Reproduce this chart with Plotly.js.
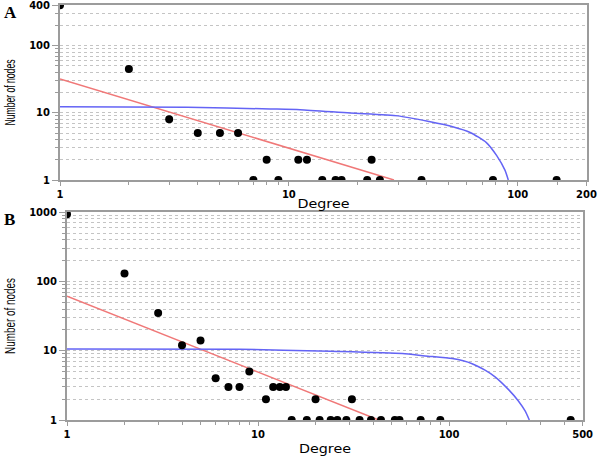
<!DOCTYPE html>
<html>
<head>
<meta charset="utf-8">
<script src="https://cdn.plot.ly/plotly-3.0.1.min.js"></script>
<style>html,body{margin:0;padding:0;background:#fff;}#chart{width:600px;height:457px;}</style>
</head>
<body>
<div id="chart"></div>
<script>
// Panel A data
const degreeA = [1,2,3,4,5,6,7,8,9,11,12,14,16,17,22,23,25,38,78,148];
const nodesA  = [400,45,8,5,5,5,1,2,1,2,2,1,1,1,1,2,1,1,1,1];
const powerFitXA = [1, 28.8];
const powerFitYA = [32, 1];
const cutoffFitXA = [1, 3.6, 8.3, 11.2, 18.5, 30, 41, 52, 62, 73, 81, 88, 91];
const cutoffFitYA = [12.3, 12.1, 11.4, 11.1, 9.9, 9.0, 7.4, 6.2, 5.1, 3.6, 2.3, 1.4, 1.0];

// Panel B data
const degreeB = [1,2,3,4,5,6,7,8,9,11,12,13,14,15,18,20,21,24,26,29,31,34,39,44,52,55,71,90,433];
const nodesB  = [930,130,35,12,14,4,3,3,5,2,3,3,3,1,1,2,1,1,1,1,2,1,1,1,1,1,1,1,1];
const powerFitXB = [1, 42.8];
const powerFitYB = [61, 1];
const cutoffFitXB = [1, 8, 24, 57, 75, 104, 132, 155, 174, 206, 230, 250, 263];
const cutoffFitYB = [10.6, 10.5, 9.8, 9.1, 8.4, 7.7, 6.5, 5.2, 4.2, 2.7, 1.9, 1.35, 1.0];

// Tick labels
const xTicksA = [1, 10, 100, 200];
const xTicksB = [1, 10, 100, 500];
const yTicksA = [1, 10, 100, 400];
const yTicksB = [1, 10, 100, 1000];
const xMinorA = [2,3,4,5,6,7,8,9,20,30,40,50,60,70,80,90,150];
const xMinorB = [2,3,4,5,6,7,8,9,20,30,40,50,60,70,80,90,200,300,400];
const yMinorA = [2,3,4,5,6,7,8,9,20,30,40,50,60,70,80,90,200,300];
const yMinorB = [2,3,4,5,6,7,8,9,20,30,40,50,60,70,80,90,200,300,400,500,600,700,800,900];

const W = 600, H = 457;
const axisGray = '#9c9c9c';
const tickFont = {family: 'DejaVu Sans, Arial, sans-serif', size: 10, color: '#000', weight: 'bold'};
const xTitleFont = {family: 'DejaVu Sans, Arial, sans-serif', size: 13, color: '#000'};
const yTitleFont = {family: 'Liberation Sans, Arial, sans-serif', size: 15, color: '#000'};

function xAxis(domain, anchor, maxVal, ticks, minor, standoff) {
  return {
    type: 'log', domain: domain, anchor: anchor,
    range: [0, Math.log10(maxVal) + 0.002],
    tickmode: 'array', tickvals: ticks, ticktext: ticks.map(String),
    ticks: 'outside', ticklen: 4, tickcolor: axisGray, tickwidth: 1,
    tickfont: tickFont, ticklabeloverflow: 'allow',
    showline: true, linecolor: axisGray, linewidth: 2, mirror: true,
    showgrid: false, zeroline: false,
    minor: {tickmode: 'array', tickvals: minor, ticks: 'outside', ticklen: 3, tickcolor: axisGray, showgrid: false},
    title: {text: 'Degree', font: xTitleFont, standoff: standoff},
    automargin: false, fixedrange: true
  };
}
function yAxis(domain, anchor, maxVal, ticks, minor) {
  return {
    type: 'log', domain: domain, anchor: anchor,
    range: [0, Math.log10(maxVal) + 0.002],
    tickmode: 'array', tickvals: ticks, ticktext: ticks.map(String),
    ticks: 'outside', ticklen: 6, tickcolor: axisGray, tickwidth: 1,
    tickfont: tickFont, ticklabeloverflow: 'allow',
    showline: true, linecolor: axisGray, linewidth: 2, mirror: true,
    showgrid: true, gridcolor: '#c4c4c4', griddash: 'dot', gridwidth: 1,
    zeroline: false,
    minor: {tickmode: 'array', tickvals: minor, ticks: 'outside', ticklen: 3, tickcolor: axisGray,
            showgrid: true, gridcolor: '#c4c4c4', griddash: 'dot', gridwidth: 1},
    title: {text: 'Number of nodes', font: yTitleFont, standoff: 10},
    automargin: false, fixedrange: true
  };
}

const dotStyle = {color: '#000', size: 8};
const redLine = {color: '#f07878', width: 1.5};
const blueLine = {color: '#6464f5', width: 1.5};

const data = [
  {x: powerFitXA, y: powerFitYA, xaxis: 'x', yaxis: 'y', mode: 'lines', line: redLine, hoverinfo: 'skip'},
  {x: cutoffFitXA, y: cutoffFitYA, xaxis: 'x', yaxis: 'y', mode: 'lines', line: Object.assign({shape: 'spline', smoothing: 0.6}, blueLine), hoverinfo: 'skip'},
  {x: degreeA, y: nodesA, xaxis: 'x', yaxis: 'y', mode: 'markers', marker: dotStyle},
  {x: powerFitXB, y: powerFitYB, xaxis: 'x2', yaxis: 'y2', mode: 'lines', line: redLine, hoverinfo: 'skip'},
  {x: cutoffFitXB, y: cutoffFitYB, xaxis: 'x2', yaxis: 'y2', mode: 'lines', line: Object.assign({shape: 'spline', smoothing: 0.6}, blueLine), hoverinfo: 'skip'},
  {x: degreeB, y: nodesB, xaxis: 'x2', yaxis: 'y2', mode: 'markers', marker: dotStyle}
];

const layout = {
  width: W, height: H,
  margin: {l: 0, r: 0, t: 0, b: 0},
  paper_bgcolor: '#fff', plot_bgcolor: '#fff',
  showlegend: false,
  xaxis: xAxis([60 / W, 587 / W], 'y', 200, xTicksA, xMinorA, 0),
  yaxis: yAxis([1 - 180 / H, 1 - 5 / H], 'x', 400, yTicksA, yMinorA),
  xaxis2: xAxis([67 / W, 583 / W], 'y2', 500, xTicksB, xMinorB, 5),
  yaxis2: yAxis([1 - 420 / H, 1 - 212 / H], 'x2', 1000, yTicksB, yMinorB),
  annotations: [
    {text: '<b>A</b>', xref: 'paper', yref: 'paper', x: 2 / W, y: 1 - 1 / H, xanchor: 'left', yanchor: 'top', showarrow: false,
     font: {family: 'Liberation Serif, Times New Roman, serif', size: 17, color: '#000'}},
    {text: '<b>B</b>', xref: 'paper', yref: 'paper', x: 2 / W, y: 1 - 208 / H, xanchor: 'left', yanchor: 'top', showarrow: false,
     font: {family: 'Liberation Serif, Times New Roman, serif', size: 17, color: '#000'}}
  ]
};

function squeezeTitles(gd) {
  const fit = [['.ytitle', 66], ['.y2title', 76], ['.xtitle', 52], ['.x2title', 52]];
  fit.forEach(function (pair) {
    gd.querySelectorAll(pair[0]).forEach(function (t) {
      t.setAttribute('textLength', pair[1]);
      t.setAttribute('lengthAdjust', 'spacingAndGlyphs');
    });
  });
}

Plotly.newPlot('chart', data, layout, {staticPlot: true, displayModeBar: false}).then(squeezeTitles);
</script>
</body>
</html>
